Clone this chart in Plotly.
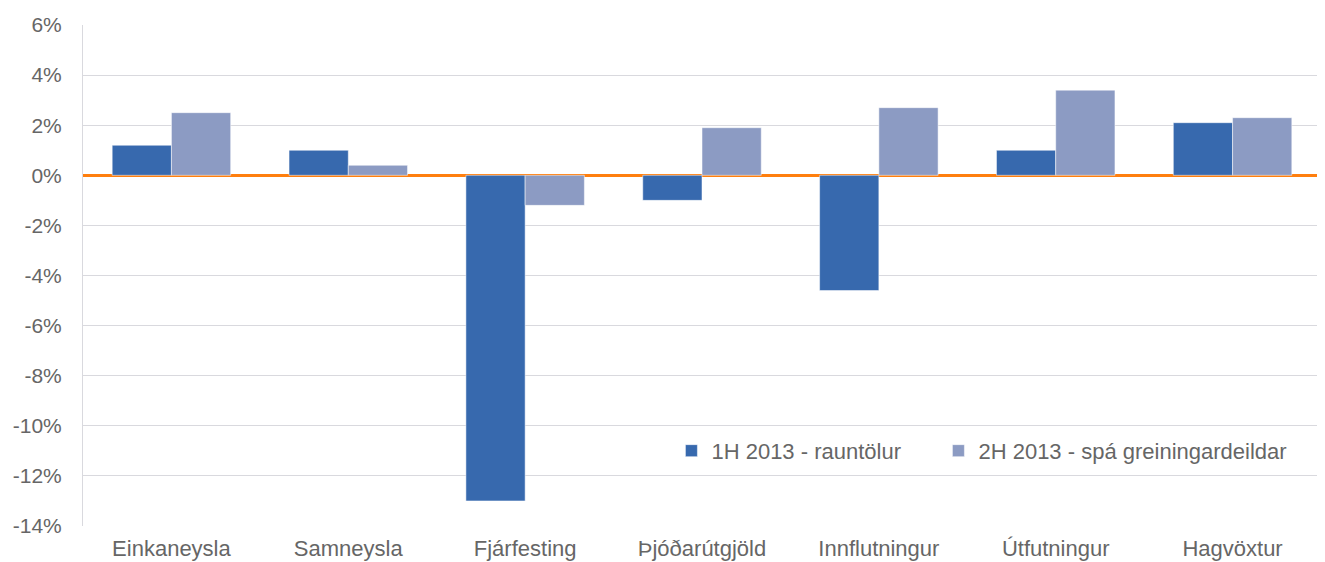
import plotly.graph_objects as go

categories = ["Einkaneysla", "Samneysla", "Fjárfesting", "Þjóðarútgjöld",
              "Innflutningur", "Útfutningur", "Hagvöxtur"]
series1_name = "1H 2013 - rauntölur"
series1 = [1.2, 1.0, -13.0, -1.0, -4.6, 1.0, 2.1]
series2_name = "2H 2013 - spá greiningardeildar"
series2 = [2.5, 0.4, -1.2, 1.9, 2.7, 3.4, 2.3]
ytick_vals = [-14, -12, -10, -8, -6, -4, -2, 0, 2, 4, 6]
ytick_text = [f"{v}%" for v in ytick_vals]

TEXT = "#666666"

fig = go.Figure()
fig.add_trace(go.Bar(x=categories, y=series1, name=series1_name, legendwidth=222,
                     marker=dict(color="#3769AE", line=dict(color="rgba(255,255,255,0.5)", width=1))))
fig.add_trace(go.Bar(x=categories, y=series2, name=series2_name,
                     marker=dict(color="#8C9BC3", line=dict(color="rgba(255,255,255,0.5)", width=1))))

fig.update_layout(
    width=1317, height=554,
    margin=dict(l=75, r=4, t=17, b=36, autoexpand=False),
    paper_bgcolor="white", plot_bgcolor="white",
    barmode="group", bargap=0.33, bargroupgap=0,
    font=dict(family="Liberation Sans, Arial, sans-serif", size=21, color=TEXT),
    legend=dict(orientation="h", x=0.4753, y=0.15, xanchor="left", yanchor="middle",
                font=dict(size=22, color=TEXT), bgcolor="rgba(0,0,0,0)",
                traceorder="normal"),
    xaxis=dict(showgrid=False, showline=False, ticks="", tickfont=dict(size=22, color=TEXT),
               ticklabelstandoff=7, automargin=False),
    yaxis=dict(range=[-14, 6], tickvals=ytick_vals, ticktext=ytick_text,
               tickfont=dict(size=21, color=TEXT),
               showgrid=True, gridcolor="#D9D9DE", gridwidth=1,
               zeroline=True, zerolinecolor="#FF7F0E", zerolinewidth=3,
               showline=True, linecolor="#D9D9DE", linewidth=1,
               ticks="", ticklabelstandoff=16, automargin=False),
)
fig.write_html("out.html")
